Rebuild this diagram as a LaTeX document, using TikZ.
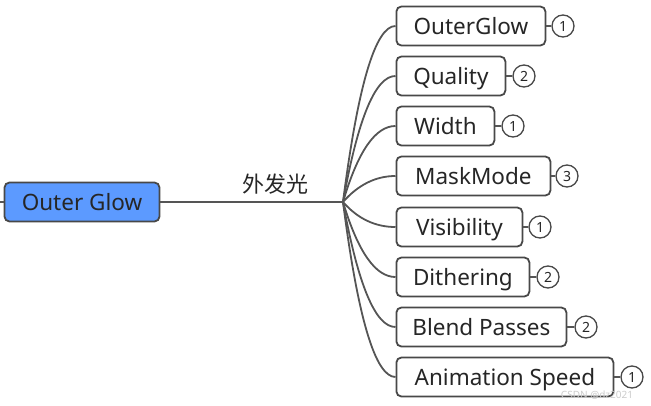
\documentclass[tikz,border=0pt]{standalone}
\usepackage{fontspec}
\setmainfont{Noto Sans}
\newfontfamily\cjk{Noto Sans CJK SC}
\usepackage{tikz}
\definecolor{boxgray}{RGB}{72,72,72}
\definecolor{linegray}{RGB}{85,85,85}
\definecolor{rootblue}{RGB}{92,154,255}
\tikzstyle{root}=[draw=boxgray,line width=1.8pt,rounded corners=5pt,fill=rootblue,minimum width=155pt,minimum height=39pt,inner sep=0pt,text height=17pt,text depth=1pt,font=\fontsize{22.5}{25}\selectfont,text=black!85]
\tikzstyle{topic}=[draw=boxgray,line width=1.8pt,rounded corners=5pt,fill=white,anchor=west,minimum height=39pt,inner sep=0pt,text height=17pt,text depth=1pt,font=\fontsize{22.5}{25}\selectfont,text=black!85]
\tikzstyle{count}=[circle,draw=boxgray,line width=1.3pt,minimum size=22pt,inner sep=0pt,fill=white,font=\fontsize{14}{14}\selectfont,text=black!85]
\tikzstyle{branch}=[draw=linegray,line width=1.8pt]

\begin{document}
\begin{tikzpicture}[x=1pt,y=-1pt]
\useasboundingbox (0,0) rectangle (651,405);

\coordinate (edge) at (0,202);
\coordinate (hub) at (343,202);
\node[root] at (82,202) (glow) {Outer Glow};

\node[topic,minimum width=149pt] at (395.5,26) (b1) {OuterGlow};
\node[topic,minimum width=109pt] at (395.5,76) (b2) {Quality};
\node[topic,minimum width=98pt] at (395.5,126) (b3) {Width};
\node[topic,minimum width=154pt] at (395.5,176) (b4) {MaskMode};
\node[topic,minimum width=126pt] at (395.5,227) (b5) {Visibility};
\node[topic,minimum width=133pt] at (395.5,277) (b6) {Dithering};
\node[topic,minimum width=170pt] at (395.5,327) (b7) {Blend Passes};
\node[topic,minimum width=217pt] at (395.5,377) (b8) {Animation Speed};

\node[count] at (563,26) (c1) {1};
\node[count] at (524,76) (c2) {2};
\node[count] at (513,126) (c3) {1};
\node[count] at (567,176) (c4) {3};
\node[count] at (540,227) (c5) {1};
\node[count] at (548,277) (c6) {2};
\node[count] at (586,327) (c7) {2};
\node[count] at (632,377) (c8) {1};

\draw[branch] (edge) -- (glow);
\draw[branch] (glow) -- node[pos=0.63,above=3pt,font=\cjk\fontsize{22}{24}\selectfont,text=black!85] (label) {外发光} (hub);

\draw[branch] (hub) .. controls +(15,-117) and +(-20,0) .. (b1.west);
\draw[branch] (hub) .. controls +(15,-84) and +(-20,0) .. (b2.west);
\draw[branch] (hub) .. controls +(15,-51) and +(-20,0) .. (b3.west);
\draw[branch] (hub) .. controls +(15,-17) and +(-20,0) .. (b4.west);
\draw[branch] (hub) .. controls +(15,17) and +(-20,0) .. (b5.west);
\draw[branch] (hub) .. controls +(15,50) and +(-20,0) .. (b6.west);
\draw[branch] (hub) .. controls +(15,83) and +(-20,0) .. (b7.west);
\draw[branch] (hub) .. controls +(15,117) and +(-20,0) .. (b8.west);

\draw[branch,line width=1.3pt] (b1) -- (c1);
\draw[branch,line width=1.3pt] (b2) -- (c2);
\draw[branch,line width=1.3pt] (b3) -- (c3);
\draw[branch,line width=1.3pt] (b4) -- (c4);
\draw[branch,line width=1.3pt] (b5) -- (c5);
\draw[branch,line width=1.3pt] (b6) -- (c6);
\draw[branch,line width=1.3pt] (b7) -- (c7);
\draw[branch,line width=1.3pt] (b8) -- (c8);

\node[text=black!20,font=\fontsize{10}{11}\selectfont,inner sep=0pt] at (597,395) (mark) {CSDN @dz2021};
\end{tikzpicture}
\end{document}
